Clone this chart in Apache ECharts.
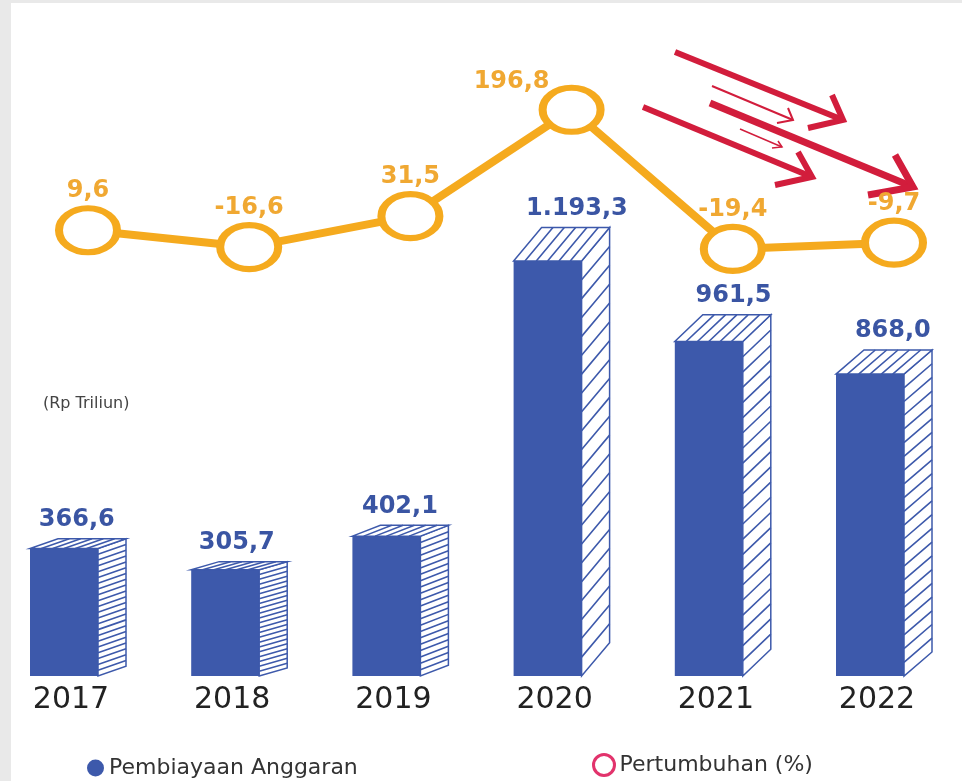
<!DOCTYPE html>
<html>
<head>
<meta charset="utf-8">
<title>Pembiayaan Anggaran</title>
<script src="https://cdn.jsdelivr.net/npm/echarts@6/dist/echarts.min.js"></script>
<style>
  html, body { margin: 0; padding: 0; background: #fff; }
  #main { width: 962px; height: 781px; }
</style>
</head>
<body>
<div id="main"></div>
<script>
// data
const years = ['2017', '2018', '2019', '2020', '2021', '2022'];
const pembiayaan = [366.6, 305.7, 402.1, 1193.3, 961.5, 868.0];
const pertumbuhan = [9.6, -16.6, 31.5, 196.8, -19.4, -9.7];

const BLUE = '#3D59AB';
const ORANGE = '#F5AA1E';
const RED = '#D21D3C';

// 1193.3 -> "1.193,3"
function fmt(v) {
  const parts = Math.abs(v).toFixed(1).split('.');
  const int = parts[0].replace(/\B(?=(\d{3})+(?!\d))/g, '.');
  return (v < 0 ? '-' : '') + int + ',' + parts[1];
}

// 3D hatched box
function renderBar(params, api) {
  const v = api.value(1);
  const p = api.coord([api.value(0), v]);
  const base = api.coord([api.value(0), 0]);
  const W = 68, D = 28;
  const L = p[0] - 41, R = L + W;
  const top = p[1], bot = base[1];
  const h = bot - top;
  const dy = Math.max(6, 7 + 0.082 * (h - 94));

  // side hatch
  let side = '';
  const s = Math.max(4.5, h / 22);
  for (let y = top + s; y < bot - 1; y += s) {
    side += 'M' + R + ' ' + y + 'L' + (R + D) + ' ' + (y - dy);
  }
  // top hatch
  let tp = '';
  const sx = W / 6;
  for (let x = L + sx; x < R - 1; x += sx) {
    tp += 'M' + x + ' ' + top + 'L' + (x + D) + ' ' + (top - dy);
  }

  return {
    type: 'group',
    children: [
      { type: 'rect', shape: { x: L, y: top, width: W, height: h }, style: { fill: BLUE } },
      {
        type: 'polygon',
        shape: { points: [[R, top], [R + D, top - dy], [R + D, bot - dy], [R, bot]] },
        style: { fill: '#fff', stroke: BLUE, lineWidth: 1.5 }
      },
      { type: 'path', shape: { pathData: side }, style: { fill: null, stroke: BLUE, lineWidth: 1.6 } },
      {
        type: 'polygon',
        shape: { points: [[L, top], [R, top], [R + D, top - dy], [L + D, top - dy]] },
        style: { fill: '#fff', stroke: BLUE, lineWidth: 1.5 }
      },
      { type: 'path', shape: { pathData: tp }, style: { fill: null, stroke: BLUE, lineWidth: 1.6 } },
      {
        type: 'text',
        style: {
          text: fmt(v), x: L + 40 + 0.7 * dy, y: top - dy - 19,
          align: 'center', verticalAlign: 'middle',
          fill: '#3A55A3', fontSize: 24, fontWeight: 'bold', fontFamily: 'DejaVu Sans'
        }
      }
    ]
  };
}

function arrow(shaft, head, w) {
  return [
    { type: 'polyline', shape: { points: shaft }, style: { stroke: RED, lineWidth: w, fill: null } },
    { type: 'polyline', shape: { points: head }, style: { stroke: RED, lineWidth: w, fill: null, lineJoin: 'miter' } }
  ];
}

const chart = echarts.init(document.getElementById('main'));
const option = {
  animation: false,
  backgroundColor: '#E9E9E9',
  graphic: [
    { type: 'rect', z: -10, shape: { x: 11, y: 3, width: 951, height: 778 }, style: { fill: '#fff' } },
    {
      type: 'text', left: 43, top: 396,
      style: { text: '(Rp Triliun)', fill: '#444', fontSize: 16, fontFamily: 'DejaVu Sans' }
    },
    ...arrow([[675, 52], [843, 120]], [[832, 95], [843, 120], [808, 128]], 6),
    ...arrow([[710, 103], [913, 187]], [[895, 155], [913, 187], [868, 195]], 7),
    ...arrow([[643, 107], [812, 177]], [[798, 152], [812, 177], [775, 185]], 6),
    ...arrow([[712, 86], [793, 120]], [[788, 108], [793, 120], [777, 123]], 2),
    ...arrow([[740, 129], [782, 147]], [[778, 141], [782, 147], [772, 148]], 1.5)
  ],
  legend: [
    {
      left: 87, top: 756, padding: 0, itemWidth: 17, itemHeight: 17,
      selectedMode: false,
      textStyle: { fontSize: 22, fontFamily: 'DejaVu Sans', color: '#333', lineHeight: 24 },
      data: [{ name: 'Pembiayaan Anggaran', icon: 'circle' }]
    },
    {
      left: 592, top: 753, padding: 0, itemWidth: 21, itemHeight: 21,
      selectedMode: false,
      textStyle: { fontSize: 22, fontFamily: 'DejaVu Sans', color: '#333', lineHeight: 24 },
      data: [{
        name: 'Pertumbuhan (%)', icon: 'circle',
        itemStyle: { color: '#fff', borderColor: '#E2336C', borderWidth: 3 }
      }]
    }
  ],
  grid: [
    { left: 71, right: 85, top: 189, bottom: 105 },
    { left: 88, right: 68, top: 82, bottom: 506 }
  ],
  xAxis: [
    {
      type: 'category', gridIndex: 0, data: years, boundaryGap: false,
      axisLine: { show: false }, axisTick: { show: false },
      axisLabel: { margin: 9, fontSize: 30, fontFamily: 'DejaVu Sans', color: '#222' }
    },
    {
      type: 'category', gridIndex: 1, data: years, boundaryGap: false,
      show: false
    }
  ],
  yAxis: [
    { type: 'value', gridIndex: 0, min: 0, max: 1400, show: false },
    { type: 'value', gridIndex: 1, min: -60, max: 240, show: false }
  ],
  series: [
    {
      name: 'Pembiayaan Anggaran',
      type: 'custom',
      xAxisIndex: 0, yAxisIndex: 0,
      itemStyle: { color: BLUE },
      renderItem: renderBar,
      encode: { x: 0, y: 1 },
      data: pembiayaan.map((v, i) => [i, v]),
      z: 2
    },
    {
      name: 'Pertumbuhan (%)',
      type: 'line',
      xAxisIndex: 1, yAxisIndex: 1,
      symbol: 'path://M0,50 A50,50 0 1,1 100,50 A50,50 0 1,1 0,50 Z',
      symbolSize: [58, 44],
      itemStyle: { color: '#fff', borderColor: ORANGE, borderWidth: 7 },
      lineStyle: { color: ORANGE, width: 8 },
      label: {
        show: true, position: 'top', distance: 2,
        color: '#F0A832', fontSize: 24, fontWeight: 'bold', fontFamily: 'DejaVu Sans',
        formatter: p => fmt(p.value)
      },
      emphasis: { disabled: true },
      data: pertumbuhan.map((v, i) => i === 3 ? { value: v, label: { offset: [-60, 11] } } : v),
      z: 5
    }
  ]
};
chart.setOption(option);
</script>
</body>
</html>
